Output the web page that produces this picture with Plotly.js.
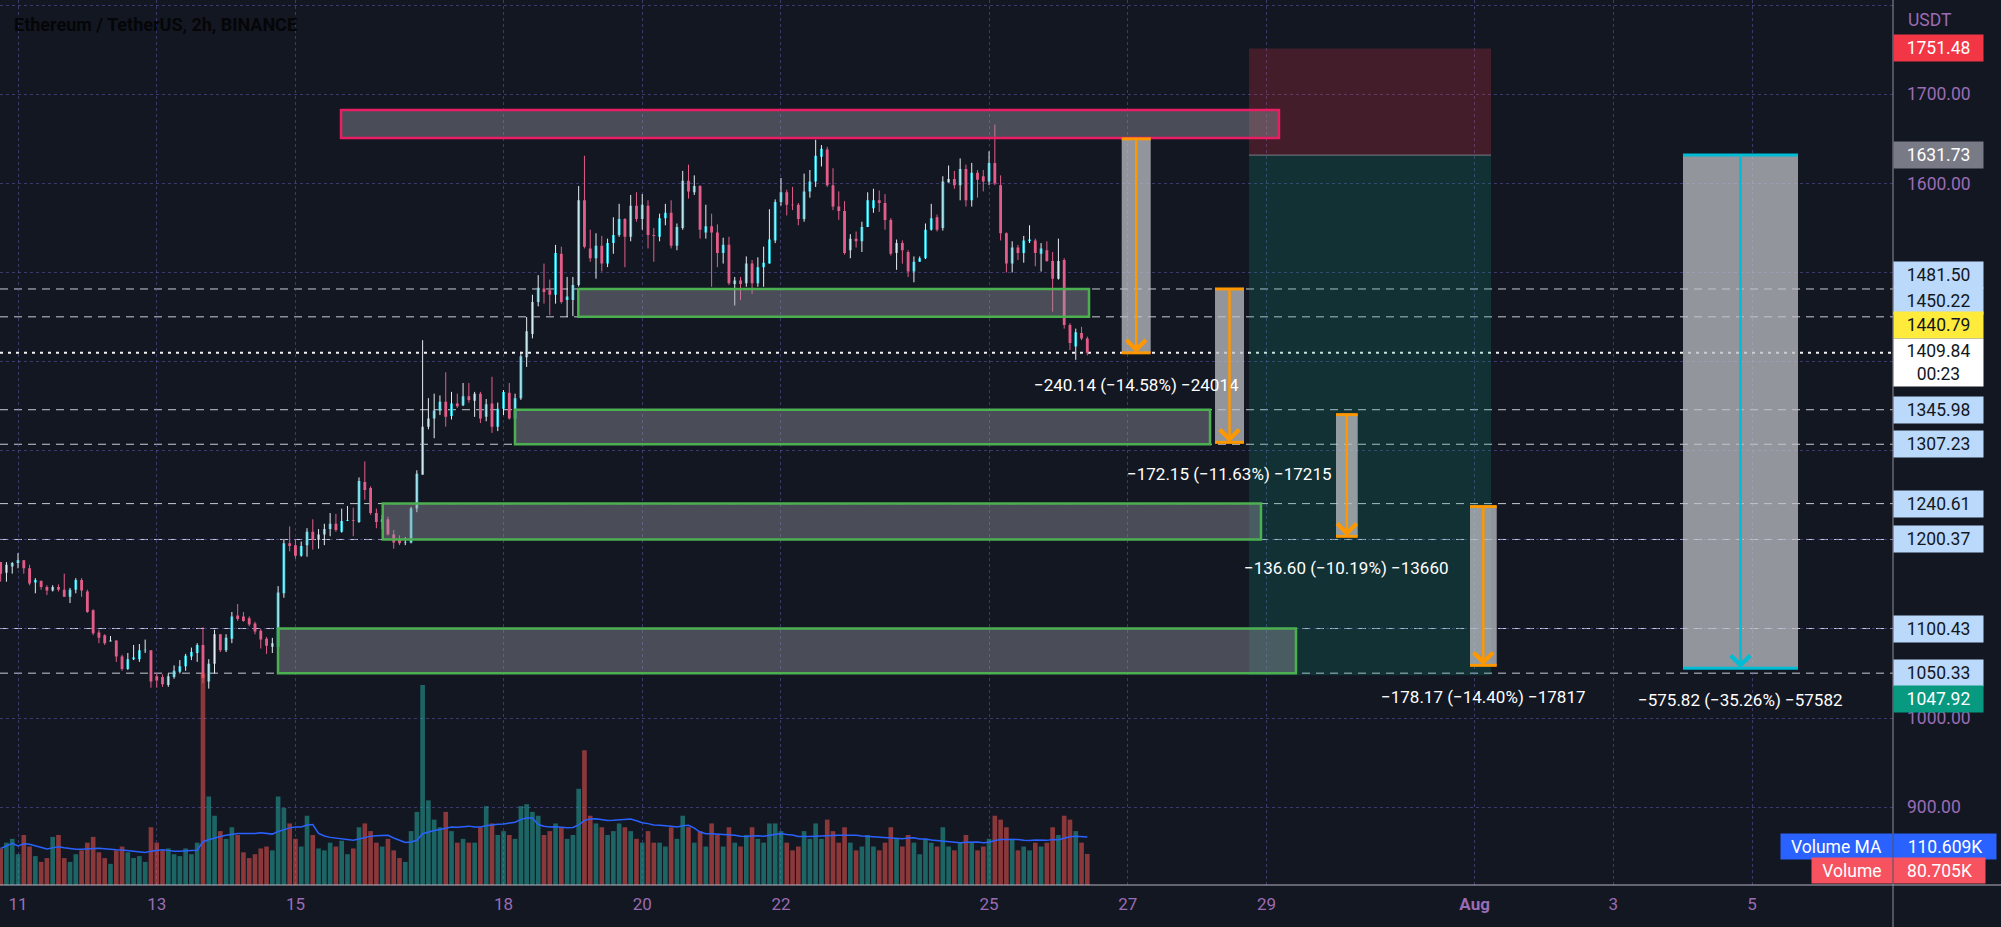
<!DOCTYPE html>
<html><head><meta charset="utf-8">
<script src="https://cdn.plot.ly/plotly-3.0.1.min.js"></script>
<style>html,body{margin:0;padding:0;background:#131722;overflow:hidden}</style>
</head><body><div id="chart" style="width:2001px;height:927px"></div>
<script>
// ---- data (ETH/USDT 2h, Binance) ----
const firstCandle = '2022-07-10T18:00:00Z';
const opens  = [1175,1163,1170,1174,1177,1168,1152,1154,1147,1143,1147,1144,1136,1144,1155,1142,1121,1096,1093,1086,1087,1069,1055,1066,1066,1076,1076,1047,1046,1037,1046,1052,1058,1069,1073,1082,1041,1061,1094,1076,1089,1115,1114,1112,1106,1098,1089,1080,1080,1140,1196,1194,1182,1194,1209,1200,1206,1212,1218,1209,1221,1222,1220,1265,1258,1230,1220,1223,1206,1200,1197,1197,1235,1273,1327,1336,1345,1355,1339,1353,1351,1361,1356,1364,1338,1353,1327,1347,1365,1336,1359,1405,1431,1467,1482,1480,1475,1521,1469,1469,1486,1581,1527,1516,1530,1510,1533,1542,1560,1540,1575,1560,1575,1542,1540,1561,1567,1530,1550,1603,1590,1597,1545,1552,1545,1522,1531,1487,1491,1488,1510,1488,1506,1510,1536,1579,1590,1576,1576,1560,1591,1602,1630,1638,1598,1574,1569,1525,1538,1535,1551,1572,1581,1578,1559,1522,1533,1523,1501,1512,1516,1548,1562,1550,1601,1605,1598,1616,1581,1612,1608,1602,1623,1598,1544,1510,1528,1522,1535,1536,1521,1525,1513,1493,1514,1441,1417,1432,1426];
const highs  = [1175,1175,1175,1185,1177,1172,1157,1154,1149,1149,1150,1162,1146,1157,1157,1144,1122,1099,1094,1092,1087,1071,1073,1082,1083,1088,1076,1050,1049,1050,1059,1065,1072,1079,1084,1102,1066,1099,1094,1094,1119,1128,1119,1114,1108,1100,1091,1090,1148,1200,1215,1200,1198,1213,1223,1212,1218,1230,1229,1235,1238,1236,1270,1288,1260,1235,1228,1226,1211,1205,1203,1237,1278,1424,1359,1364,1362,1388,1366,1364,1376,1376,1366,1366,1358,1383,1354,1368,1376,1364,1411,1450,1475,1497,1510,1492,1531,1529,1495,1495,1597,1631,1548,1544,1541,1538,1562,1577,1561,1587,1590,1588,1581,1550,1566,1577,1581,1555,1614,1621,1609,1598,1576,1566,1554,1539,1540,1495,1495,1518,1514,1517,1529,1571,1582,1606,1593,1596,1578,1611,1615,1649,1643,1641,1617,1591,1580,1543,1546,1557,1590,1594,1592,1588,1561,1537,1536,1525,1518,1518,1555,1577,1565,1608,1620,1614,1628,1621,1623,1615,1615,1636,1666,1609,1545,1535,1531,1541,1553,1538,1533,1535,1523,1538,1516,1443,1437,1439,1428];
const lows   = [1153,1153,1162,1168,1162,1149,1140,1144,1138,1142,1142,1136,1129,1140,1136,1118,1093,1084,1082,1086,1063,1053,1054,1065,1063,1073,1034,1034,1035,1035,1044,1050,1053,1065,1063,1039,1033,1050,1074,1074,1084,1109,1108,1103,1094,1078,1072,1073,1080,1135,1187,1179,1181,1181,1189,1190,1194,1204,1209,1208,1221,1204,1219,1245,1228,1213,1212,1205,1190,1194,1194,1196,1231,1273,1324,1314,1340,1327,1335,1348,1350,1354,1338,1331,1333,1320,1322,1340,1335,1334,1357,1394,1426,1462,1465,1452,1465,1465,1450,1451,1484,1527,1512,1493,1501,1506,1521,1540,1506,1535,1557,1548,1527,1512,1535,1553,1527,1525,1548,1583,1587,1538,1538,1484,1506,1510,1486,1463,1469,1484,1476,1484,1484,1510,1533,1575,1564,1570,1553,1557,1584,1596,1619,1596,1570,1559,1520,1516,1528,1523,1551,1567,1568,1548,1519,1503,1510,1495,1489,1512,1515,1547,1546,1547,1601,1594,1581,1574,1574,1584,1591,1598,1598,1536,1500,1500,1514,1511,1533,1507,1501,1512,1456,1492,1437,1413,1402,1424,1407];
const closes = [1162,1172,1174,1177,1168,1151,1155,1147,1143,1147,1144,1136,1144,1155,1143,1119,1095,1090,1084,1087,1069,1055,1066,1068,1076,1076.5,1041,1042,1038,1047,1053,1058,1070,1074,1082,1045,1061,1094,1076,1090,1114,1111,1109,1105,1097,1088,1081,1084,1141,1196,1193,1182,1193,1209,1200,1206,1212,1218,1211,1221,1222,1221,1266,1256,1230,1220,1223,1206,1197,1196,1197.5,1235,1274,1327,1336,1345,1355,1338,1353,1350,1361,1357,1364,1336,1352,1327,1347,1366,1336,1359,1406,1434,1467,1483,1478,1475,1522,1467,1473,1486,1581,1529,1516,1530,1510,1533,1542,1560,1540,1575,1560,1576,1542,1541,1561,1567,1530,1551,1603,1591,1597,1548,1552,1545,1522,1531,1488,1491,1487,1510,1488,1506,1511,1537,1579,1590,1576,1575.5,1560,1591,1602,1631,1639,1598,1574,1569,1522,1538,1535,1551,1581,1581,1578,1559,1521,1533,1525,1501,1512,1516,1548,1561,1548,1602,1605,1598,1616,1581,1612,1604,1602,1623,1600,1544,1510,1528,1522,1536,1537,1522,1527,1513,1493,1513,1441,1421,1433,1426,1409.84];
const volumes = [95,110,120,80,130,100,75,60,70,125,130,70,60,80,90,110,125,85,70,55,90,100,85,70,75,60,150,110,90,95,80,75,95,80,110,550,230,180,140,120,150,130,85,70,80,95,100,90,230,200,160,120,100,180,130,95,90,110,100,115,80,95,150,160,140,110,100,120,90,70,60,140,190,520,220,170,150,190,140,110,120,110,110,150,205,160,130,140,130,120,205,210,190,180,130,140,160,150,120,130,250,350,180,160,150,130,140,160,150,140,120,110,140,110,110,100,150,120,180,150,110,140,100,160,130,100,150,110,100,130,150,120,110,160,160,140,110,90,100,140,120,160,120,170,140,110,150,110,90,100,130,100,90,110,150,120,100,130,110,80,120,110,100,150,100,90,110,130,110,90,100,120,180,170,150,120,90,100,90,110,100,110,150,130,180,170,140,110,80.705];

const priceTicks = [900,1000,1100,1200,1300,1400,1500,1600,1700,1800];
const priceTickText = ['900.00','1000.00','','','','','','1600.00','1700.00',''];
const dateTicks = ['2022-07-11','2022-07-13','2022-07-15','2022-07-18','2022-07-20','2022-07-22','2022-07-25','2022-07-27','2022-07-29','2022-08-01','2022-08-03','2022-08-05'];
const dateTickText = ['11','13','15','18','20','22','25','27','29','<b>Aug</b>','3','5'];

// horizontal levels
const levels = [1481.50,1450.22,1345.98,1307.23,1240.61,1200.37,1100.43,1050.33];
const lastPrice = 1409.84;
// resistance zone
const resStart = '2022-07-15 15:46', resEnd = '2022-07-29 04:19', resTop = 1682.4, resBottom = 1651.0;
// support zones
const supStart  = ['2022-07-19 01:52','2022-07-18 03:58','2022-07-16 06:12','2022-07-14 17:58'];
const supEnd    = ['2022-07-26 10:35','2022-07-28 04:28','2022-07-28 22:06','2022-07-29 10:12'];
const supTop    = [1481.50,1345.98,1240.61,1100.43];
const supBottom = [1450.22,1307.23,1200.37,1050.33];
// short position
const posStart = '2022-07-28 17:57', posEnd = '2022-08-01 05:41';
const posStop = 1751.48, posEntry = 1631.73, posTarget = 1047.92;
// price-range measurements
const measStart  = ['2022-07-26 21:54','2022-07-28 06:11','2022-07-30 00:03','2022-07-31 22:25','2022-08-04 00:07'];
const measEnd    = ['2022-07-27 07:56','2022-07-28 16:13','2022-07-30 07:34','2022-08-01 07:40','2022-08-05 15:55'];
const measTop    = [1649.98,1481.50,1340.50,1237.30,1631.73];
const measBottom = [1409.84,1309.35,1203.90,1059.10,1055.91];
const measText   = ['−240.14 (−14.58%) −24014','−172.15 (−11.63%) −17215','−136.60 (−10.19%) −13660','−178.17 (−14.40%) −17817','−575.82 (−35.26%) −57582'];
const measColor  = ['#ff9800','#ff9800','#ff9800','#ff9800','#00bcd4'];
const volMA = 110.609, volLast = 80.705;

// ---- build ----
const pad = n => String(n).padStart(2,'0');
const fmt = ms => { const d = new Date(ms); return d.getUTCFullYear()+'-'+pad(d.getUTCMonth()+1)+'-'+pad(d.getUTCDate())+' '+pad(d.getUTCHours())+':'+pad(d.getUTCMinutes()); };
const toMs = s => Date.parse(s.replace(' ','T')+':00Z');
const t0 = Date.parse(firstCandle);
const times = opens.map((_, i) => fmt(t0 + i*7200000));
const up = closes.map((c,i) => c >= opens[i]);

const wick = (flag) => { const x=[], y=[]; times.forEach((t,i)=>{ if(up[i]===flag){ x.push(t,t,null); y.push(lows[i],highs[i],null);} }); return {x,y}; };
const wu = wick(true), wd = wick(false);

const ma = volumes.map((_, i) => { const s = Math.max(0, i-19); const w = volumes.slice(s, i+1); return w.reduce((a,b)=>a+b,0)/w.length; });

const traces = [
  {type:'bar', x:times, y:volumes, yaxis:'y2', width:0.8*7200000,
   marker:{color: up.map(u => u ? 'rgba(38,166,154,0.55)' : 'rgba(239,83,80,0.55)'), line:{width:0}}, hoverinfo:'skip'},
  {type:'scatter', mode:'lines', x:times, y:ma, yaxis:'y2', line:{color:'#2962ff', width:1.5}, hoverinfo:'skip'},
  {type:'scatter', mode:'lines', x:wu.x, y:wu.y, line:{color:'#e6eef2', width:1}, hoverinfo:'skip', connectgaps:false},
  {type:'scatter', mode:'lines', x:wd.x, y:wd.y, line:{color:'#e35d89', width:1}, hoverinfo:'skip', connectgaps:false},
  {type:'candlestick', x:times, open:opens, high:highs, low:lows, close:closes, whiskerwidth:0,
   increasing:{line:{color:'#26c6da', width:0}, fillcolor:'#26c6da'},
   decreasing:{line:{color:'#e35d89', width:0}, fillcolor:'#e35d89'}, hoverinfo:'skip'}
];

const shapes = [];
shapes.push({type:'rect', xref:'x', yref:'y', x0:posStart, x1:posEnd, y0:posEntry, y1:posStop, fillcolor:'rgba(242,54,69,0.22)', line:{width:0}, layer:'between'});
shapes.push({type:'rect', xref:'x', yref:'y', x0:posStart, x1:posEnd, y0:posTarget, y1:posEntry, fillcolor:'rgba(8,153,129,0.2)', line:{width:0}, layer:'between'});
shapes.push({type:'line', xref:'x', yref:'y', x0:posStart, x1:posEnd, y0:posEntry, y1:posEntry, line:{color:'#787b86', width:1}, layer:'between'});
levels.forEach(v => shapes.push({type:'line', xref:'paper', yref:'y', x0:0, x1:1, y0:v, y1:v, line:{color:'rgba(235,235,240,0.85)', width:1, dash:'8px,6px'}, layer:'between'}));
shapes.push({type:'line', xref:'paper', yref:'y', x0:0, x1:1, y0:lastPrice, y1:lastPrice, line:{color:'#f2f2f2', width:2, dash:'3px,5px'}, layer:'between'});
shapes.push({type:'rect', xref:'x', yref:'y', x0:resStart, x1:resEnd, y0:resBottom, y1:resTop, fillcolor:'rgba(149,152,161,0.42)', line:{color:'#e91e63', width:2.5}});
supStart.forEach((s,i) => shapes.push({type:'rect', xref:'x', yref:'y', x0:s, x1:supEnd[i], y0:supBottom[i], y1:supTop[i], fillcolor:'rgba(149,152,161,0.42)', line:{color:'#4caf50', width:2.5}}));
const annotations = [];
measStart.forEach((s,i) => {
  const mid = fmt((toMs(s)+toMs(measEnd[i]))/2);
  shapes.push({type:'rect', xref:'x', yref:'y', x0:s, x1:measEnd[i], y0:measBottom[i], y1:measTop[i], fillcolor:'rgba(190,192,198,0.75)', line:{width:0}});
  shapes.push({type:'line', xref:'x', yref:'y', x0:s, x1:measEnd[i], y0:measTop[i], y1:measTop[i], line:{color:measColor[i], width:3}});
  shapes.push({type:'line', xref:'x', yref:'y', x0:s, x1:measEnd[i], y0:measBottom[i], y1:measBottom[i], line:{color:measColor[i], width:3}});
  annotations.push({x:mid, y:measBottom[i], ax:mid, ay:measTop[i], xref:'x', yref:'y', axref:'x', ayref:'y', text:'', showarrow:true, arrowhead:4, arrowsize:1.5, arrowwidth:2.5, arrowcolor:measColor[i], standoff:0, startstandoff:0});
  annotations.push({x:mid, y:measBottom[i], xref:'x', yref:'y', yshift:-32, yanchor:'middle', text:measText[i], showarrow:false, font:{family:'Roboto', size:17, color:'#ffffff'}});
});
shapes.push({type:'line', xref:'paper', yref:'paper', x0:0, x1:2001/1893, y0:0, y1:0, line:{color:'#b8b4c2', width:1}});
shapes.push({type:'line', xref:'paper', yref:'paper', x0:1, x1:1, y0:-42/885, y1:1, line:{color:'#8f8f99', width:1}});

const FS = 17.5;
const axLabel = (text, y, bg, fg, shift, yref) => ({xref:'paper', x:1, xanchor:'left', yref:yref||'y', y:y, yanchor:'middle', yshift:shift||0, text:text, showarrow:false, bgcolor:bg, font:{family:'Roboto', size:FS, color:fg}, width:82, height:19, borderpad:3.5, align:'center'});
annotations.push({xref:'paper', x:1, xanchor:'left', xshift:13, yref:'paper', y:1-20/885, yanchor:'middle', text:'USDT', showarrow:false, font:{family:'Roboto', size:FS, color:'#9a6cb4'}});
annotations.push(axLabel(posStop.toFixed(2), posStop, '#f23645', '#ffffff', 0));
annotations.push(axLabel(posEntry.toFixed(2), posEntry, '#787b86', '#ffffff', 0));
annotations.push(axLabel(levels[0].toFixed(2), levels[0], '#bbd9fb', '#131722', 14));
annotations.push(axLabel(levels[1].toFixed(2), levels[1], '#bbd9fb', '#131722', 16));
annotations.push(axLabel('1440.79', 1440.79, '#ffeb3b', '#131722', 0));
annotations.push(Object.assign(axLabel(lastPrice.toFixed(2)+'<br>00:23', lastPrice, '#ffffff', '#131722', -10), {height:40}));
for (let k=2;k<levels.length;k++) annotations.push(axLabel(levels[k].toFixed(2), levels[k], '#bbd9fb', '#131722', 0));
annotations.push(axLabel(posTarget.toFixed(2), posTarget, '#089981', '#ffffff', -24));
annotations.push({xref:'paper', x:1, xanchor:'right', yref:'y2', y:volMA, yanchor:'middle', yshift:-4, text:'Volume MA', showarrow:false, bgcolor:'#2962ff', font:{family:'Roboto', size:FS, color:'#ffffff'}, borderpad:4, height:17, width:103});
annotations.push({xref:'paper', x:1, xanchor:'left', yref:'y2', y:volMA, yanchor:'middle', yshift:-4, text:volMA.toFixed(3)+'K', showarrow:false, bgcolor:'#2962ff', font:{family:'Roboto', size:FS, color:'#ffffff'}, borderpad:4, height:17, width:94});
annotations.push({xref:'paper', x:1, xanchor:'right', yref:'y2', y:volLast, yanchor:'middle', yshift:-17, text:'Volume', showarrow:false, bgcolor:'#f7525f', font:{family:'Roboto', size:FS, color:'#ffffff'}, borderpad:4, height:17, width:72});
annotations.push({xref:'paper', x:1, xanchor:'left', yref:'y2', y:volLast, yanchor:'middle', yshift:-17, text:volLast.toFixed(3)+'K', showarrow:false, bgcolor:'#f7525f', font:{family:'Roboto', size:FS, color:'#ffffff'}, borderpad:4, height:17, width:83});
annotations.push({xref:'paper', x:0, xanchor:'left', xshift:12, yref:'paper', y:1-24/885, yanchor:'middle', text:'<b>Ethereum / TetherUS, 2h, BINANCE</b>', showarrow:false, font:{family:'Roboto', size:18, color:'#050608'}});

const layout = {
  width:2001, height:927, margin:{l:0, r:108, t:0, b:42},
  paper_bgcolor:'#131722', plot_bgcolor:'#131722', showlegend:false, dragmode:false,
  font:{family:'Roboto', size:FS, color:'#9a6cb4'},
  xaxis:{type:'date', range:['2022-07-10 17:46','2022-08-07 00:47'], tickvals:dateTicks, ticktext:dateTickText,
    showgrid:true, gridcolor:'rgba(98,86,170,0.55)', griddash:'dot', gridwidth:1, zeroline:false, showline:false,
    ticks:'', ticklabelstandoff:7, tickfont:{family:'Roboto', size:17, color:'#9a6cb4'}, rangeslider:{visible:false}, fixedrange:true},
  yaxis:{range:[812.6, 1805.8], side:'right', tickvals:priceTicks, ticktext:priceTickText,
    showgrid:true, gridcolor:'rgba(98,86,170,0.55)', griddash:'dot', gridwidth:1, zeroline:false, showline:false,
    ticks:'', ticklabelstandoff:13, tickfont:{family:'Roboto', size:FS, color:'#9a6cb4'}, fixedrange:true},
  yaxis2:{overlaying:'y', side:'right', range:[0, 2300], visible:false, showgrid:false, fixedrange:true},
  bargap:0.2,
  shapes:shapes, annotations:annotations
};
Plotly.newPlot('chart', traces, layout, {displayModeBar:false, staticPlot:true});
</script></body></html>
